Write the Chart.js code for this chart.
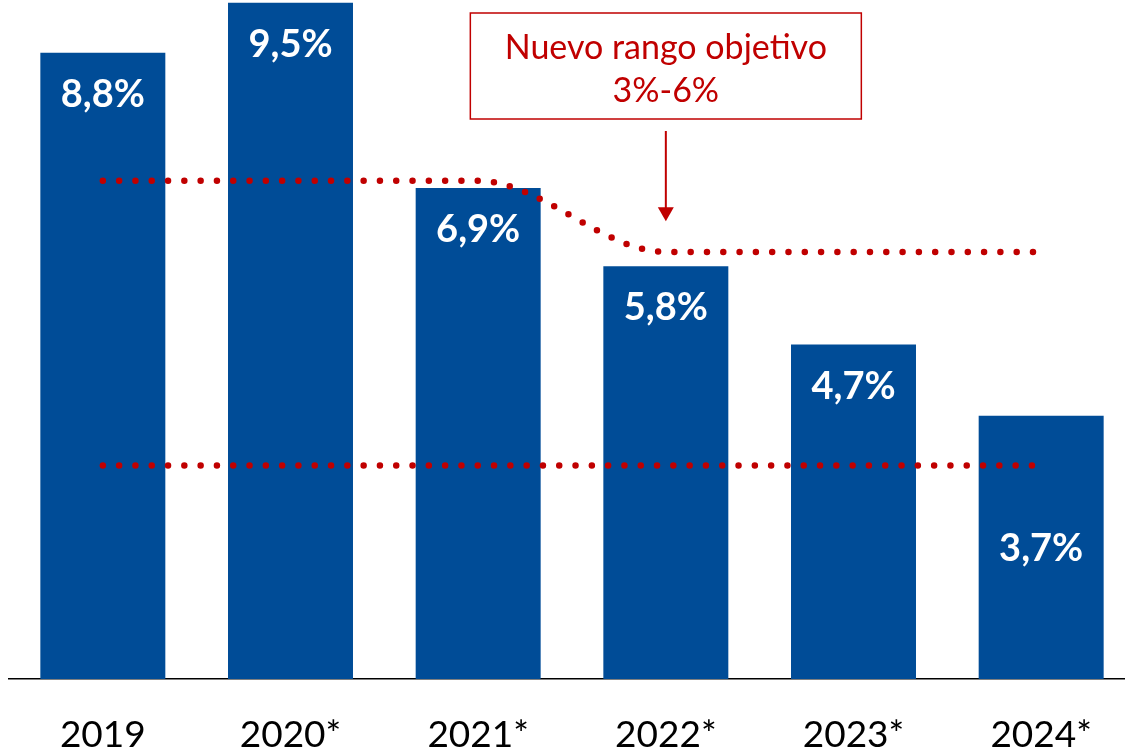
<!DOCTYPE html>
<html>
<head>
<meta charset="utf-8">
<script src="https://cdn.jsdelivr.net/npm/chart.js@4.4.1/dist/chart.umd.min.js"></script>
<style>
    html, body { margin: 0; padding: 0; background: #fff; overflow: hidden; }
    #wrap { width: 1135px; height: 751px; }
</style>
</head>
<body>
<div id="wrap"><canvas id="deficitChart" width="1135" height="751"></canvas></div>
<script>
// datos del gráfico
const categories = ['2019', '2020*', '2021*', '2022*', '2023*', '2024*'];
const deficitValues = [8.8, 9.5, 6.9, 5.8, 4.7, 3.7];
const rangoSuperior = [7, 7, 7, 6, 6, 6];
const rangoInferior = [3, 3, 3, 3, 3, 3];
const boxText = ['Nuevo rango objetivo', '3%-6%'];
const boxCategory = 3; // 2022*

const BLUE = '#004C97';
const RED = '#C00000';
const FONT = 'Lato, "Open Sans", sans-serif';

function fmt(v) {
    return v.toFixed(1).replace('.', ',') + '%';
}

// etiquetas blancas dentro de las barras
const barLabels = {
    id: 'barLabels',
    afterDatasetsDraw(chart, args, opts) {
        const ctx = chart.ctx;
        const meta = chart.getDatasetMeta(2);
        ctx.save();
        ctx.fillStyle = '#fff';
        ctx.font = 'bold 38px ' + FONT;
        ctx.textAlign = 'center';
        ctx.textBaseline = 'middle';
        meta.data.forEach((bar, i) => {
            const off = opts.shift[i] !== undefined ? opts.shift[i] : opts.offset;
            ctx.fillText(fmt(deficitValues[i]), bar.x, bar.y + off);
        });
        ctx.restore();
    }
};

// recuadro "Nuevo rango objetivo" con flecha
const rangeBox = {
    id: 'rangeBox',
    afterDatasetsDraw(chart, args, opts) {
        const ctx = chart.ctx;
        const x = chart.scales.x.getPixelForValue(boxCategory);
        const yTip = chart.scales.y.getPixelForValue(opts.arrowTo);
        const left = x - opts.width / 2;
        ctx.save();
        ctx.fillStyle = '#fff';
        ctx.fillRect(left, opts.top, opts.width, opts.height);
        ctx.strokeStyle = RED;
        ctx.lineWidth = 1.5;
        ctx.strokeRect(left, opts.top, opts.width, opts.height);

        ctx.fillStyle = RED;
        ctx.font = '34px ' + FONT;
        ctx.textAlign = 'center';
        ctx.textBaseline = 'middle';
        ctx.fillText(boxText[0], x, opts.top + 35);
        ctx.fillText(boxText[1], x, opts.top + 78);

        // flecha
        const y0 = opts.top + opts.height + 12;
        ctx.beginPath();
        ctx.lineWidth = 2;
        ctx.moveTo(x, y0);
        ctx.lineTo(x, yTip - 12);
        ctx.stroke();
        ctx.beginPath();
        ctx.moveTo(x - 8, yTip - 14);
        ctx.lineTo(x + 8, yTip - 14);
        ctx.lineTo(x, yTip);
        ctx.closePath();
        ctx.fill();
        ctx.restore();
    }
};

const dotted = {
    type: 'line',
    borderColor: RED,
    borderWidth: 6.5,
    borderCapStyle: 'round',
    borderDash: [0, 16.3],
    pointRadius: 0,
    fill: false,
    cubicInterpolationMode: 'monotone',
    order: 0
};

new Chart(document.getElementById('deficitChart'), {
    type: 'bar',
    data: {
        labels: categories,
        datasets: [
            Object.assign({ label: 'Rango superior', data: rangoSuperior }, dotted),
            Object.assign({ label: 'Rango inferior', data: rangoInferior }, dotted),
            {
                label: 'Déficit',
                data: deficitValues,
                backgroundColor: BLUE,
                categoryPercentage: 1,
                barPercentage: 0.666,
                order: 1
            }
        ]
    },
    options: {
        responsive: false,
        animation: false,
        layout: { padding: { left: 9, right: 0, top: 0, bottom: 0 } },
        plugins: {
            legend: { display: false },
            tooltip: { enabled: false },
            barLabels: { offset: 42, shift: { 5: 133 } },
            rangeBox: { top: 13, height: 106, width: 391, arrowTo: 6.43 }
        },
        scales: {
            x: {
                grid: { display: false, drawTicks: false },
                border: { display: true, color: '#000', width: 1.5 },
                ticks: {
                    color: '#000',
                    font: { family: FONT, size: 37 },
                    padding: 34
                },
                afterFit(scale) { scale.height = 72; }
            },
            y: {
                display: false,
                min: 0,
                max: 9.54
            }
        }
    },
    plugins: [barLabels, rangeBox]
});
</script>
</body>
</html>
